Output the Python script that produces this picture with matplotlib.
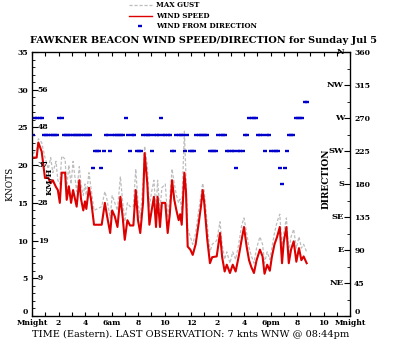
import numpy as np
import matplotlib
matplotlib.use("Agg")
import matplotlib.pyplot as plt
from matplotlib.lines import Line2D
from matplotlib.ticker import MultipleLocator

plt.rcParams['font.family'] = 'DejaVu Serif'
plt.rcParams['font.weight'] = 'bold'

# wind speed / gust, hours after midnight
spd_hr = [0.07, 0.35, 0.48, 0.73, 0.98, 1.23, 1.41, 1.57, 1.81, 1.95,
          2.1, 2.24, 2.5, 2.62, 2.78, 2.95, 3.1, 3.37, 3.57, 3.7,
          3.87, 4.0, 4.1, 4.3, 4.45, 4.68, 5.26, 5.5, 5.65, 5.9,
          6.05, 6.25, 6.45, 6.67, 6.85, 7.0, 7.2, 7.4, 7.65, 7.83,
          8.0, 8.17, 8.38, 8.5, 8.7, 8.86, 9.03, 9.2, 9.36, 9.48,
          9.66, 9.8, 10.06, 10.24, 10.4, 10.57, 10.74, 10.9, 11.07, 11.18,
          11.3, 11.5, 11.62, 11.75, 11.95, 12.13, 12.35, 12.58, 12.75, 12.88,
          13.0, 13.23, 13.43, 13.6, 13.94, 14.19, 14.35, 14.54, 14.7, 14.94,
          15.15, 15.37, 15.6, 15.82, 16.0, 16.2, 16.38, 16.55, 16.75, 16.95,
          17.2, 17.4, 17.55, 17.75, 17.95, 18.1, 18.3, 18.5, 18.7, 18.87,
          19.0, 19.2, 19.38, 19.55, 19.75, 19.95, 20.15, 20.33, 20.5, 20.73]
speed = [21.0, 21.0, 23.0, 21.8, 18.3, 18.3, 17.6, 18.0, 17.1, 16.7,
         15.0, 19.0, 19.0, 15.4, 17.2, 15.0, 16.7, 14.5, 18.0, 15.5,
         14.0, 15.2, 14.2, 17.0, 15.5, 12.1, 12.1, 15.0, 13.4, 11.0,
         14.0, 13.2, 11.8, 15.8, 13.0, 10.1, 12.7, 12.0, 12.0, 16.7,
         12.7, 11.0, 15.0, 21.6, 17.6, 12.1, 14.0, 15.8, 11.8, 15.8,
         11.8, 15.0, 15.0, 11.0, 13.5, 18.0, 15.4, 14.0, 12.7, 13.5,
         12.1, 19.0, 16.5, 9.2, 8.8, 8.1, 9.5, 12.3, 14.5, 16.7,
         15.0, 10.1, 7.0, 7.8, 7.9, 11.0, 7.8, 5.9, 6.8, 5.7,
         6.8, 5.9, 7.9, 10.1, 11.8, 9.2, 7.4, 6.5, 5.7, 7.4,
         8.8, 7.9, 5.6, 6.8, 6.0, 7.8, 9.5, 10.5, 11.8, 7.0,
         9.8, 11.8, 7.0, 8.8, 9.9, 7.2, 9.0, 7.4, 7.9, 7.0]
gust = [21.5, 22.0, 23.5, 23.0, 21.0, 19.5, 21.0, 19.0, 20.5, 18.0,
        17.5, 21.2, 20.8, 17.0, 20.0, 17.5, 20.5, 16.5, 19.8, 17.5,
        16.0, 17.5, 16.0, 19.0, 17.0, 14.0, 14.5, 16.5, 15.5, 13.0,
        16.0, 15.0, 14.0, 18.5, 15.0, 12.5, 15.0, 14.5, 14.5, 19.5,
        15.0, 13.0, 17.5, 22.5, 20.0, 14.5, 16.5, 18.0, 14.0, 18.0,
        14.0, 17.0, 17.5, 13.0, 15.5, 19.5, 17.5, 16.0, 15.0, 15.5,
        14.0, 24.5, 18.5, 11.5, 10.5, 9.5, 11.0, 14.0, 16.0, 17.6,
        16.5, 12.0, 8.5, 9.5, 10.0, 12.5, 9.5, 7.5, 8.5, 7.0,
        8.5, 7.5, 9.5, 12.0, 13.0, 11.0, 9.0, 8.0, 7.0, 9.0,
        10.5, 9.5, 7.0, 8.5, 7.5, 9.0, 11.0, 12.5, 13.5, 9.0,
        11.0, 13.0, 8.5, 10.5, 11.5, 9.0, 10.5, 9.0, 9.5, 8.5]

# wind-from direction (deg), one reading every 10 min starting 00:04
direction = [247.5, 270, 270, 270, 270, 247.5, 247.5, 247.5, 247.5, 247.5,
             247.5, 247.5, 270, 270, 247.5, 247.5, 247.5, 247.5, 247.5, 247.5,
             247.5, 247.5, 247.5, 247.5, 247.5, 247.5, 247.5, 202.5, 225, 225,
             225, 202.5, 225, 247.5, 247.5, 225, 247.5, 247.5, 247.5, 247.5,
             247.5, 247.5, 270, 247.5, 225, 247.5, 247.5, 225, 225, 225,
             247.5, 247.5, 247.5, 247.5, 225, 247.5, 247.5, 247.5, 270, 247.5,
             247.5, 247.5, 247.5, 225, 225, 247.5, 247.5, 247.5, 247.5, 225,
             247.5, 225, 225, 225, 247.5, 247.5, 247.5, 247.5, 247.5, 247.5,
             225, 225, 225, 225, 247.5, 247.5, 247.5, 247.5, 225, 225,
             225, 225, 202.5, 225, 225, 225, 247.5, 247.5, 270, 270,
             270, 270, 247.5, 247.5, 247.5, 225, 247.5, 247.5, 225, 225,
             225, 225, 202.5, 180, 202.5, 225, 247.5, 247.5, 247.5, 270,
             270, 270, 270, 292.5, 292.5]
dir_hr = (4 + 10 * np.arange(len(direction))) / 60.0

hour_lbls = ['Mnight', '2', '4', '6am', '8', '10', '12', '2', '4', '6pm', '8', '10', 'Mnight']
kmh_lbls = ['9', '19', '28', '37', '48', '56']
compass = ['NE', 'E', 'SE', 'S', 'SW', 'W', 'NW', 'N']

fig = plt.figure(figsize=(4, 3.46), dpi=100)
ax = fig.add_axes([0.08, 0.0867, 0.795, 0.763])
ax2 = ax.twinx()

ax.plot(spd_hr, gust, color='#bdbdbd', lw=0.9, ls=(0, (2.5, 1.5)), zorder=2)
ax.plot(spd_hr, speed, color='#dd0000', lw=1.5, zorder=3)
ax2.plot(dir_hr, direction, ls='none', marker='_', ms=2.6, mew=1.7, color='#0000cc')

ax.set_xlim(0, 24)
ax.set_ylim(0, 35)
ax2.set_ylim(0, 360)

ax.set_xticks(range(0, 25, 2))
ax.set_xticklabels(hour_lbls)
ax.xaxis.set_minor_locator(MultipleLocator(1))
ax.set_yticks(range(0, 36, 5))
ax.yaxis.set_minor_locator(MultipleLocator(1))
ax2.set_yticks(range(0, 361, 45))
ax2.yaxis.set_minor_locator(MultipleLocator(22.5))

ax.tick_params(axis='x', which='both', direction='in', top=True, length=3, width=0.8,
               labelsize=5.5, pad=2)
ax.tick_params(axis='y', which='major', direction='in', length=4, width=0.8, labelsize=5.5, pad=3)
ax.tick_params(axis='y', which='minor', direction='in', length=2, width=0.6)
ax2.tick_params(axis='y', which='major', direction='in', length=4, width=0.8, labelsize=5.5, pad=3)
ax2.tick_params(axis='y', which='minor', direction='in', length=2, width=0.6)

# lift the two "0" labels clear of the hour labels
ax.get_yticklabels()[0].set_verticalalignment('bottom')
ax2.get_yticklabels()[0].set_verticalalignment('bottom')

for sp in ax.spines.values():
    sp.set_linewidth(0.9)

# km/h equivalents inside the left axis
for v, t in zip(range(5, 31, 5), kmh_lbls):
    ax.text(0.42, v, t, fontsize=5.5, ha='left', va='center')
ax.text(1.3, 17.9, 'KM/H', rotation=90, fontsize=6, ha='center', va='center')

# compass points inside the right axis
for v, t in zip(range(45, 361, 45), compass):
    ax2.text(23.55, v, t, fontsize=6, ha='right', va='center')

ax.set_ylabel('KNOTS', fontsize=6.5, labelpad=2)
ax2.text(22.2, 187, 'DIRECTION', rotation=90, fontsize=6.5, ha='center', va='center')
ax.set_xlabel('TIME (Eastern). LAST OBSERVATION: 7 knts WNW @ 08:44pm', fontsize=7, labelpad=2)
fig.text(0.508, 0.884, 'FAWKNER BEACON WIND SPEED/DIRECTION for Sunday Jul 5',
         fontsize=7, ha='center', va='center')

# legend block above the title
fig.add_artist(Line2D([0.322, 0.38], [0.985, 0.985], color='#bdbdbd', lw=0.9, ls=(0, (2.5, 1.5))))
fig.add_artist(Line2D([0.322, 0.38], [0.954, 0.954], color='#dd0000', lw=1.0))
fig.add_artist(Line2D([0.35], [0.924], ls='none', marker='_', ms=2.6, mew=1.7, color='#0000cc'))
fig.text(0.39, 0.985, 'MAX GUST', fontsize=5, va='center')
fig.text(0.39, 0.954, 'WIND SPEED', fontsize=5, va='center')
fig.text(0.39, 0.924, 'WIND FROM DIRECTION', fontsize=5, va='center')

fig.savefig('out.png', dpi=100)
